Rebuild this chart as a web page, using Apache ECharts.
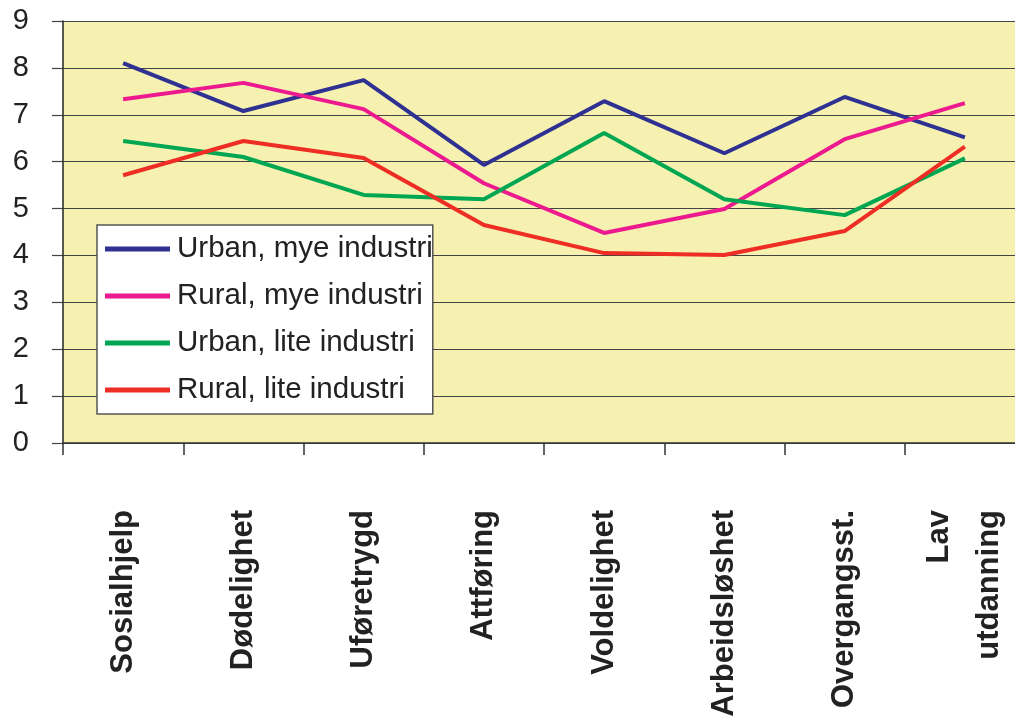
<!DOCTYPE html>
<html>
<head>
<meta charset="utf-8">
<script src="https://cdn.jsdelivr.net/npm/echarts@6/dist/echarts.min.js"></script>
<style>
  html, body { margin: 0; padding: 0; background: #fff; overflow: hidden; }
  /* plottet går litt ut over høyre kant, som i originalen */
  #chart { width: 1030px; height: 728px; }
</style>
</head>
<body>
<div id="chart"></div>
<script>
// kategorier langs x-aksen
const categories = ['Sosialhjelp', 'Dødelighet', 'Uføretrygd', 'Attføring',
  'Voldelighet', 'Arbeidsløshet', 'Overgangsst.', 'Lav\nutdanning'];

// verdier lest av figuren
const urbanMye = [8.10, 7.08, 7.74, 5.93, 7.29, 6.18, 7.38, 6.52];
const ruralMye = [7.33, 7.68, 7.12, 5.54, 4.48, 4.99, 6.48, 7.25];
const urbanLite = [6.44, 6.10, 5.29, 5.20, 6.61, 5.20, 4.86, 6.07];
const ruralLite = [5.71, 6.44, 6.08, 4.65, 4.05, 4.01, 4.52, 6.32];

const seriesNames = ['Urban, mye industri', 'Rural, mye industri', 'Urban, lite industri', 'Rural, lite industri'];
const yTicks = [0, 1, 2, 3, 4, 5, 6, 7, 8, 9];

const colors = ['#2E3192', '#EC198F', '#00A651', '#EE2D24'];
const font = '"Liberation Sans", Arial, sans-serif';

const chart = echarts.init(document.getElementById('chart'));

function lineSeries(name, data, color) {
  return {
    name: name,
    type: 'line',
    data: data,
    symbol: 'none',
    lineStyle: { color: color, width: 4 },
    itemStyle: { color: color },
    animation: false
  };
}

const option = {
  animation: false,
  grid: {
    left: 63,
    top: 21,
    width: 962,
    height: 422,
    show: true,
    backgroundColor: '#F6F1B0',
    borderWidth: 0
  },
  legend: {
    orient: 'vertical',
    left: 97,
    top: 225,
    data: seriesNames,
    icon: 'rect',
    itemWidth: 65,
    itemHeight: 5,
    itemGap: 17,
    padding: [9, 0, 9, 8],
    backgroundColor: '#fff',
    borderColor: '#555',
    borderWidth: 1.5,
    textStyle: { fontFamily: font, fontSize: 29.5, color: '#222', padding: [0, 0, 0, 2] }
  },
  xAxis: {
    type: 'category',
    data: categories,
    boundaryGap: true,
    axisLine: { lineStyle: { color: '#333', width: 1.5 } },
    axisTick: { show: true, interval: 0, length: 12, lineStyle: { color: '#333', width: 1.5 } },
    axisLabel: {
      interval: 0,
      rotate: 90,
      margin: 67,
      fontFamily: font,
      fontSize: 31,
      fontWeight: 'bold',
      color: '#222',
      lineHeight: 50,
      padding: [8, 0, 0, 0]
    },
    splitLine: { show: false }
  },
  yAxis: {
    type: 'value',
    min: yTicks[0],
    max: yTicks[yTicks.length - 1],
    interval: 1,
    axisLine: { show: true, lineStyle: { color: '#222', width: 1.5 } },
    axisTick: { show: true, length: 11, lineStyle: { color: '#444', width: 1.2 } },
    axisLabel: { margin: 34, fontFamily: font, fontSize: 29, color: '#222' },
    splitLine: { show: true, lineStyle: { color: '#444', width: 1 } }
  },
  series: [
    lineSeries(seriesNames[0], urbanMye, colors[0]),
    lineSeries(seriesNames[1], ruralMye, colors[1]),
    lineSeries(seriesNames[2], urbanLite, colors[2]),
    lineSeries(seriesNames[3], ruralLite, colors[3])
  ]
};

chart.setOption(option);
</script>
</body>
</html>
